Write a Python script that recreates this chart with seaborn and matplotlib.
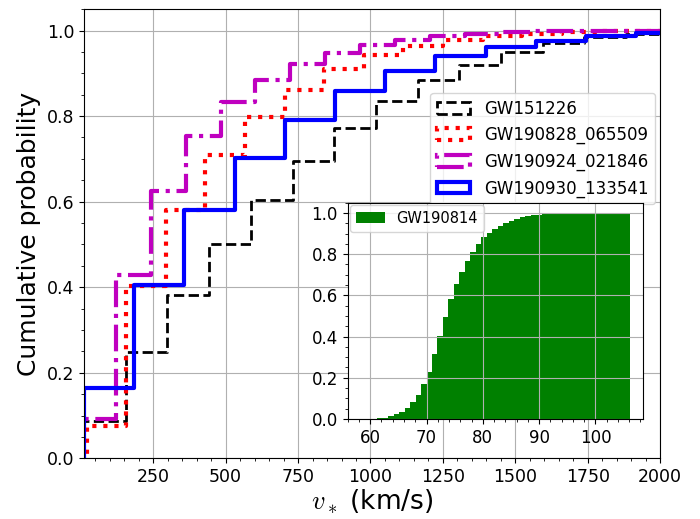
import numpy as np
import matplotlib
matplotlib.use("Agg")
import matplotlib.pyplot as plt
from matplotlib.patches import Patch
from matplotlib.ticker import MultipleLocator, AutoMinorLocator
import seaborn as sns

plt.rcParams['mathtext.fontset'] = 'cm'

# -- Дані (кумулятивний рівень кожного біну)

events = ['GW151226', 'GW190828_065509', 'GW190924_021846', 'GW190930_133541']
colors = ['k', 'r', 'm', 'b']
line_styles = ['--', ':', '-.', '-']
line_widths = [2, 3, 3, 3]

# перший край біну та ширина біну (km/s)
bin_start = [11, 20, -1, 11]
bin_width = [144, 136.7, 120.8, 173.3]

cdf_gw151226 = [0.087, 0.248, 0.381, 0.500, 0.603, 0.695, 0.773, 0.835, 0.884,
                0.919, 0.951, 0.972, 0.984, 0.992]
cdf_gw190828 = [0.076, 0.402, 0.580, 0.710, 0.798, 0.861, 0.911, 0.944, 0.964,
                0.978, 0.987, 0.993, 0.996, 0.998, 1.0]
cdf_gw190924 = [0.092, 0.428, 0.626, 0.753, 0.834, 0.884, 0.923, 0.948, 0.966,
                0.978, 0.987, 0.993, 0.996, 0.998, 0.999, 1.0, 1.0]
cdf_gw190930 = [0.164, 0.406, 0.580, 0.703, 0.792, 0.859, 0.905, 0.941, 0.962,
                0.976, 0.987, 0.995]
all_cdfs = [cdf_gw151226, cdf_gw190828, cdf_gw190924, cdf_gw190930]

# вставка
inset_event = 'GW190814'
inset_start = 58.3
inset_width = 0.975
cdf_gw190814 = [0, 0, 0, 0.003, 0.007, 0.015, 0.023, 0.034, 0.053, 0.081, 0.118,
                0.169, 0.229, 0.316, 0.405, 0.496, 0.583, 0.656, 0.713, 0.767,
                0.809, 0.850, 0.881, 0.903, 0.922, 0.938, 0.951, 0.962, 0.972,
                0.979, 0.984, 0.988, 0.991, 0.993, 0.995, 0.997, 0.998, 0.999,
                0.999, 1.0, 1.0, 1.0, 1.0, 1.0, 1.0, 1.0, 1.0, 1.0, 1.0]


def cdf_hist(ax, levels, start, width, lead_bin=True, **kw):
    # порожній бін спереду, щоб крива піднімалась від нуля
    levels = np.asarray(levels, dtype=float)
    if lead_bin:
        levels = np.concatenate([[0.0], levels])
        start = start - width
    edges = start + width * np.arange(len(levels) + 1)
    centers = 0.5 * (edges[:-1] + edges[1:])
    weights = np.diff(np.concatenate([[0.0], levels]))
    sns.histplot(x=centers, weights=weights, bins=edges.tolist(), cumulative=True,
                 stat='count', element='step', ax=ax, **kw)


fig = plt.figure(figsize=(7, 5.19), dpi=100)
ax = fig.add_axes([0.1201, 0.117, 0.8228, 0.8653])

handles = []
for name, cdf, c, ls, lw, b0, w in zip(events, all_cdfs, colors, line_styles,
                                       line_widths, bin_start, bin_width):
    cdf_hist(ax, cdf, b0, w, fill=False, color=c, linestyle=ls, linewidth=lw)
    handles.append(Patch(facecolor='none', edgecolor=c, linestyle=ls,
                         linewidth=lw, label=name))

ax.set_xlim(11, 2000)
ax.set_ylim(0, 1.05)
ax.minorticks_on()
ax.grid(True)
ax.tick_params(labelsize=12.5)
ax.set_xlabel(r'$v_*$ (km/s)', fontsize=19, labelpad=1)
ax.set_ylabel('Cumulative probability', fontsize=18)
ax.legend(handles=handles, loc='upper right', bbox_to_anchor=(0.991, 0.813),
          borderaxespad=0, fontsize=12)

# -- Вставка з GW190814
axin = fig.add_axes([0.4967, 0.1927, 0.4223, 0.4168])
cdf_hist(axin, cdf_gw190814, inset_start, inset_width, lead_bin=False,
         fill=True, color='g', alpha=1, linewidth=0)
axin.set_xlim(56, 108.5)
axin.set_ylim(0, 1.05)
axin.xaxis.set_major_locator(MultipleLocator(10))
axin.xaxis.set_minor_locator(AutoMinorLocator(5))
axin.yaxis.set_minor_locator(AutoMinorLocator(4))
axin.grid(True)
axin.tick_params(labelsize=12)
axin.set_xlabel('')
axin.set_ylabel('')
axin.legend(handles=[Patch(facecolor='g', label=inset_event)], loc='upper left',
            borderaxespad=0.15, fontsize=10.5)

plt.savefig('out.png', dpi=100)
plt.close()
